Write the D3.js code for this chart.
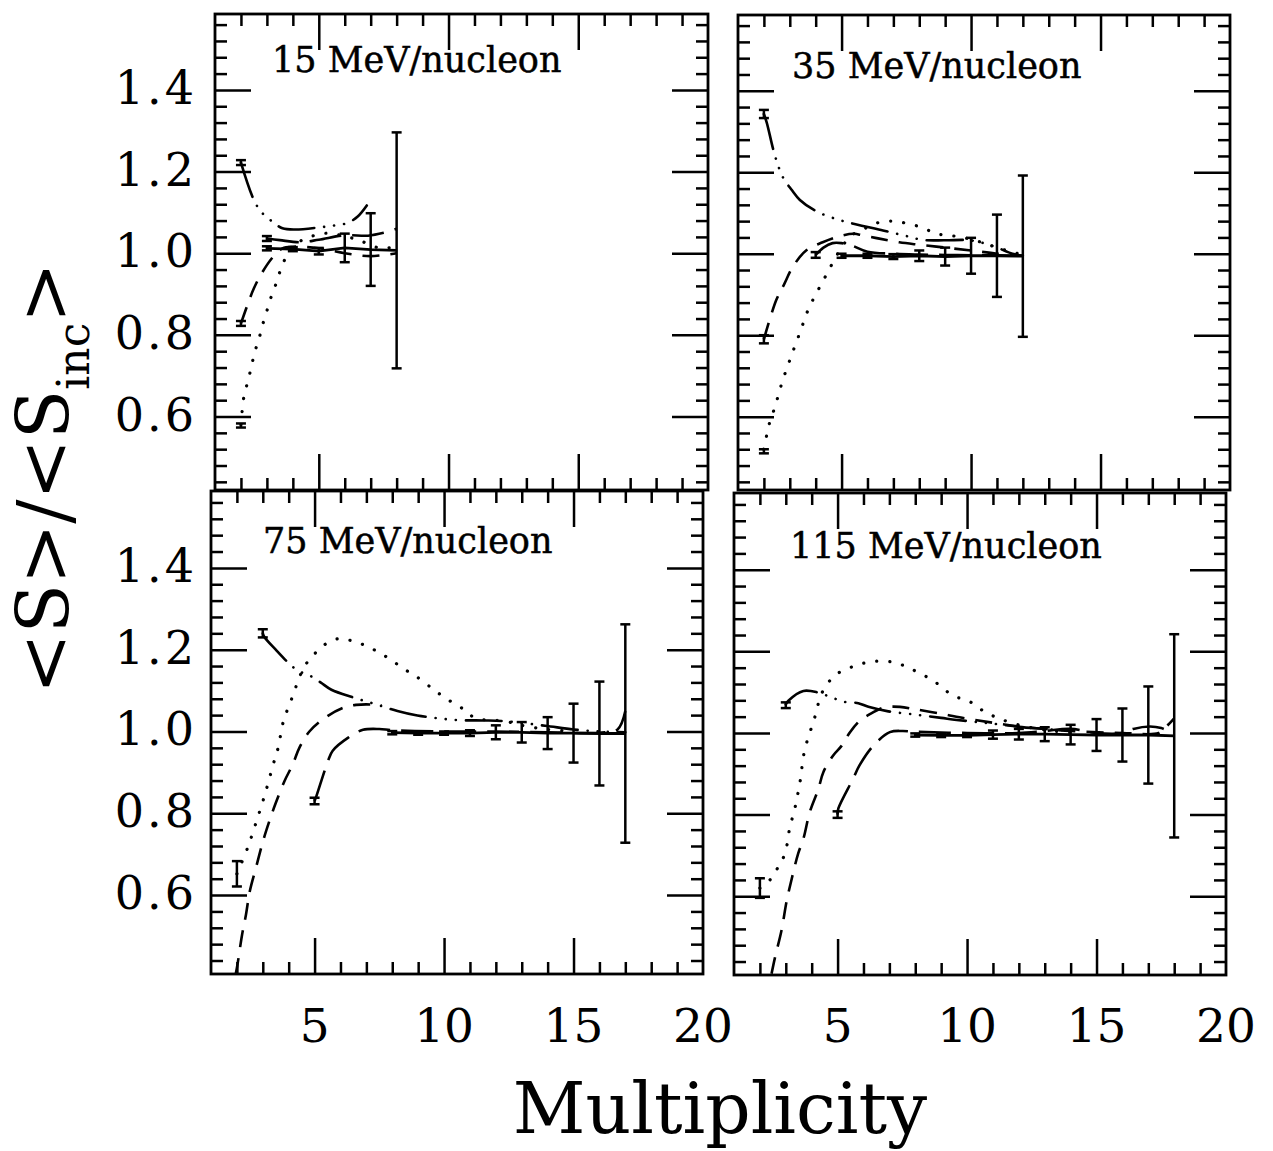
<!DOCTYPE html>
<html><head><meta charset="utf-8">
<script src="https://cdn.jsdelivr.net/npm/d3@7"></script>
<style>
html,body{margin:0;padding:0;background:#fff;}
svg{display:block;}
</style></head><body>
<svg id="chart" width="1273" height="1151"></svg>
<script>
// ---------------- DATA ----------------
const panelTitles = ["15 MeV/nucleon", "35 MeV/nucleon", "75 MeV/nucleon", "115 MeV/nucleon"];
const xDomain = [1, 20];
const xMajorTicks = [5, 10, 15];
const xMinorTicks = [2, 3, 4, 6, 7, 8, 9, 11, 12, 13, 14, 16, 17, 18, 19];
const xTickLabelValues = [5, 10, 15, 20];
const xTickLabels = ["5", "10", "15", "20"];
const yMajorTicks = [0.6, 0.8, 1.0, 1.2, 1.4];
const yTickLabels = ["0.6", "0.8", "1.0", "1.2", "1.4"];
const yMinorTicks = [0.44, 0.48, 0.52, 0.56, 0.64, 0.68, 0.72, 0.76, 0.84, 0.88, 0.92, 0.96,
                     1.04, 1.08, 1.12, 1.16, 1.24, 1.28, 1.32, 1.36, 1.44, 1.48, 1.52, 1.56];
const yDomainTop = [0.42, 1.586];
const yDomainBottom = [0.407, 1.588];

// 15 MeV/nucleon
const e15DashDotX = [2, 2.5, 2.8, 3.2, 3.6, 4.1, 5, 5.6, 6.1, 6.5, 6.85];
const e15DashDotY = [1.222, 1.13, 1.10, 1.078, 1.061, 1.058, 1.063, 1.068, 1.074, 1.09, 1.117];
const e15LongDashX = [3, 3.5, 4.3, 5, 6, 6.9, 7.5, 8];
const e15LongDashY = [1.036, 1.032, 1.027, 1.033, 1.044, 1.043, 1.05, 1.06];
const e15DashedX = [2, 2.25, 2.5, 2.8, 3.25, 3.6, 4, 5, 6, 7, 8];
const e15DashedY = [0.828, 0.873, 0.914, 0.951, 0.992, 1.012, 1.016, 1.012, 1.0, 0.993, 1.0];
const e15DottedX = [2, 2.12, 2.28, 2.41, 2.54, 2.71, 2.86, 3.02, 3.18, 3.38, 3.57, 3.83, 4.3, 4.8, 5.3, 6.4, 7.4, 7.9];
const e15DottedY = [0.58, 0.651, 0.689, 0.725, 0.759, 0.794, 0.83, 0.863, 0.896, 0.93, 0.967, 1.0, 1.03, 1.043, 1.049, 1.035, 1.012, 1.016];
const e15DataX = [3, 4, 5, 6, 7, 8];
const e15DataY = [1.012, 1.01, 1.005, 1.013, 1.009, 1.007];
const e15DataErr = [0.005, 0.005, 0.008, 0.035, 0.089, 0.289];
const e15StartX = [2, 2, 2, 3];
const e15StartY = [1.222, 0.828, 0.578, 1.036];
const e15StartErr = [0.006, 0.006, 0.005, 0.006];

// 35 MeV/nucleon
const e35DashDotX = [2, 2.11, 2.43, 2.74, 3.07, 3.39, 4, 4.75, 5.5, 6.6, 7.4, 8.14, 9, 9.96, 10.8, 11.6, 12];
const e35DashDotY = [1.343, 1.322, 1.24, 1.187, 1.157, 1.132, 1.105, 1.086, 1.073, 1.057, 1.045, 1.034, 1.033, 1.033, 1.02, 1.0, 0.995];
const e35DashedX = [2, 2.47, 2.79, 3.11, 3.63, 4.27, 5.04, 5.49, 5.81, 6.46, 7.23, 8, 9, 10, 11, 12];
const e35DashedY = [0.79, 0.885, 0.926, 0.967, 1.008, 1.028, 1.045, 1.049, 1.045, 1.037, 1.028, 1.022, 1.015, 1.008, 1.0, 0.995];
const e35DottedX = [2, 2.11, 2.24, 2.43, 2.58, 2.74, 2.93, 3.12, 3.32, 3.51, 3.7, 3.95, 4.24, 4.5, 4.78, 5.1, 5.5, 6, 6.46, 7.03, 7.6, 8.13, 8.65, 9.16, 9.68, 10.3, 11, 12];
const e35DottedY = [0.52, 0.555, 0.59, 0.624, 0.658, 0.692, 0.726, 0.76, 0.794, 0.828, 0.861, 0.894, 0.928, 0.959, 0.992, 1.025, 1.05, 1.065, 1.077, 1.08, 1.073, 1.064, 1.049, 1.045, 1.04, 1.03, 1.015, 0.997];
const e35LongDashX = [4, 4.3, 4.65, 5.0, 5.4, 6, 7, 8, 9, 10, 11, 12];
const e35LongDashY = [0.997, 1.015, 1.026, 1.026, 1.02, 1.005, 1.0, 0.998, 0.997, 0.996, 0.996, 0.995];
const e35DataX = [5, 6, 7, 8, 9, 10, 11, 12];
const e35DataY = [0.995, 0.995, 0.993, 0.995, 0.993, 0.995, 0.995, 0.994];
const e35DataErr = [0.005, 0.005, 0.006, 0.013, 0.022, 0.044, 0.101, 0.198];
const e35StartX = [2, 2, 2, 4];
const e35StartY = [1.343, 0.79, 0.515, 0.997];
const e35StartErr = [0.01, 0.01, 0.005, 0.007];

// 75 MeV/nucleon
const e75DashDotX = [3, 3.06, 3.5, 3.97, 4.35, 4.8, 5.23, 5.65, 6.5, 7.39, 8.2, 8.97, 10.49, 11.5, 12.4, 13.9, 15, 16, 17];
const e75DashDotY = [1.24, 1.231, 1.2, 1.169, 1.149, 1.137, 1.12, 1.102, 1.083, 1.066, 1.05, 1.039, 1.028, 1.027, 1.025, 1.014, 1.005, 1.0, 0.998];
const e75DottedX = [2, 2.41, 2.76, 3.1, 3.41, 3.58, 3.8, 4.0, 4.2, 4.39, 4.65, 5.0, 5.43, 5.94, 6.48, 7.0, 7.52, 8.0, 8.45, 8.94, 9.82, 10.32, 10.81, 11.2, 12.36, 13, 14, 15];
const e75DottedY = [0.652, 0.715, 0.781, 0.85, 0.921, 0.957, 1.026, 1.061, 1.094, 1.129, 1.163, 1.19, 1.214, 1.227, 1.221, 1.209, 1.192, 1.173, 1.153, 1.134, 1.092, 1.071, 1.052, 1.033, 1.025, 1.015, 1.005, 1.0];
const e75DashedX = [1.95, 2.03, 2.2, 2.35, 2.5, 2.75, 3, 3.25, 3.5, 3.84, 4.16, 4.42, 4.8, 5.39, 6.1, 6.6, 7.2, 7.6];
const e75DashedY = [0.405, 0.433, 0.503, 0.552, 0.61, 0.67, 0.73, 0.78, 0.825, 0.879, 0.92, 0.961, 1.0, 1.033, 1.058, 1.065, 1.066, 1.064];
const e75LongDashX = [5, 5.07, 5.52, 5.7, 6.3, 6.87, 7.5, 8, 10, 12, 14, 16, 16.7, 17];
const e75LongDashY = [0.83, 0.842, 0.928, 0.953, 0.985, 1.004, 1.006, 1.003, 1.0, 1.0, 0.998, 0.997, 1.005, 1.05];
const e75DataX = [8, 9, 10, 11, 12, 13, 14, 15, 16, 17];
const e75DataY = [0.997, 0.996, 0.996, 0.996, 0.998, 0.998, 0.996, 0.996, 0.995, 0.995];
const e75DataErr = [0.004, 0.004, 0.004, 0.007, 0.017, 0.025, 0.039, 0.072, 0.127, 0.267];
const e75StartX = [2, 3, 5];
const e75StartY = [0.652, 1.24, 0.83];
const e75StartErr = [0.031, 0.01, 0.008];

// 115 MeV/nucleon
const e115DashDotX = [3, 3.1, 3.68, 4.25, 4.77, 5.29, 5.8, 6.19, 6.96, 8, 9, 9.6, 11.1, 12, 13, 14];
const e115DashDotY = [1.07, 1.079, 1.103, 1.099, 1.087, 1.076, 1.073, 1.064, 1.053, 1.045, 1.037, 1.032, 1.022, 1.015, 1.01, 1.005];
const e115DottedX = [2, 2.39, 2.71, 2.97, 3.16, 3.32, 3.44, 3.55, 3.7, 3.87, 4.04, 4.19, 4.32, 4.6, 4.96, 5.48, 6.0, 6.5, 7.09, 7.6, 8.12, 8.7, 9.47, 10.05, 10.5, 11.14, 12.1, 13, 14];
const e115DottedY = [0.62, 0.64, 0.672, 0.705, 0.77, 0.807, 0.843, 0.88, 0.949, 0.99, 1.022, 1.054, 1.087, 1.12, 1.144, 1.16, 1.171, 1.176, 1.174, 1.164, 1.148, 1.128, 1.091, 1.079, 1.059, 1.038, 1.018, 1.008, 1.0];
const e115DashedX = [2.45, 2.58, 2.84, 3.03, 3.23, 3.48, 3.68, 3.93, 4.26, 4.45, 4.83, 5.16, 5.48, 5.86, 6.3, 6.76, 7.41, 8, 9, 10, 11, 12, 13, 14, 16, 17.4, 17.7, 18];
const e115DashedY = [0.41, 0.449, 0.518, 0.587, 0.643, 0.705, 0.741, 0.807, 0.863, 0.904, 0.945, 0.969, 1.002, 1.03, 1.048, 1.062, 1.064, 1.058, 1.047, 1.035, 1.025, 1.016, 1.01, 1.005, 1.0, 1.0, 1.016, 1.036];
const e115LongDashX = [5, 5.03, 5.6, 5.84, 6.38, 7.02, 7.5, 8, 10, 12, 13, 14, 15, 16, 16.42, 17.06, 17.5, 17.96];
const e115LongDashY = [0.8, 0.815, 0.888, 0.92, 0.969, 1.002, 1.005, 1.003, 1.0, 1.0, 1.005, 1.01, 1.0, 1.0, 1.01, 1.016, 1.012, 0.998];
const e115DataX = [8, 9, 10, 11, 12, 13, 14, 15, 16, 17, 18];
const e115DataY = [0.995, 0.994, 0.994, 0.996, 0.997, 0.997, 0.996, 0.995, 0.995, 0.995, 0.993];
const e115DataErr = [0.004, 0.004, 0.004, 0.01, 0.013, 0.017, 0.024, 0.039, 0.065, 0.119, 0.249];
const e115StartX = [2, 3, 5];
const e115StartY = [0.62, 1.068, 0.8];
const e115StartErr = [0.024, 0.007, 0.008];

// ---------------- ASSEMBLY ----------------
const panels = [
  { title: panelTitles[0], yDomain: yDomainTop,
    curves: [{style: "dashdot", x: e15DashDotX, y: e15DashDotY}, {style: "longdash", x: e15LongDashX, y: e15LongDashY},
             {style: "dashed", x: e15DashedX, y: e15DashedY}, {style: "dotted", x: e15DottedX, y: e15DottedY}],
    data: {x: e15DataX, y: e15DataY, err: e15DataErr},
    starts: {x: e15StartX, y: e15StartY, err: e15StartErr}, yLabels: true, xLabels: false },
  { title: panelTitles[1], yDomain: yDomainTop,
    curves: [{style: "dashdot", x: e35DashDotX, y: e35DashDotY}, {style: "dashed", x: e35DashedX, y: e35DashedY},
             {style: "dotted", x: e35DottedX, y: e35DottedY}, {style: "longdash", x: e35LongDashX, y: e35LongDashY}],
    data: {x: e35DataX, y: e35DataY, err: e35DataErr},
    starts: {x: e35StartX, y: e35StartY, err: e35StartErr}, yLabels: false, xLabels: false },
  { title: panelTitles[2], yDomain: yDomainBottom,
    curves: [{style: "dashdot", x: e75DashDotX, y: e75DashDotY}, {style: "dotted", x: e75DottedX, y: e75DottedY},
             {style: "dashed", x: e75DashedX, y: e75DashedY}, {style: "longdash", x: e75LongDashX, y: e75LongDashY}],
    data: {x: e75DataX, y: e75DataY, err: e75DataErr},
    starts: {x: e75StartX, y: e75StartY, err: e75StartErr}, yLabels: true, xLabels: true },
  { title: panelTitles[3], yDomain: yDomainBottom,
    curves: [{style: "dashdot", x: e115DashDotX, y: e115DashDotY}, {style: "dotted", x: e115DottedX, y: e115DottedY},
             {style: "dashed", x: e115DashedX, y: e115DashedY}, {style: "longdash", x: e115LongDashX, y: e115LongDashY}],
    data: {x: e115DataX, y: e115DataY, err: e115DataErr},
    starts: {x: e115StartX, y: e115StartY, err: e115StartErr}, yLabels: false, xLabels: true }
];

// layout (pixel geometry of each frame, following the scanned figure)
const layout = [
  {x0: 215, x1: 708, y0: 14, y1: 490, lx: 57, ly: 58},
  {x0: 738, x1: 1230, y0: 15, y1: 490, lx: 54, ly: 63},
  {x0: 211, x1: 703, y0: 491, y1: 974, lx: 52, ly: 62},
  {x0: 734, x1: 1226, y0: 493, y1: 975, lx: 56, ly: 65}
];
const dashes = {dashdot: "36,10,0.1,10,0.1,10,0.1,10", dashed: "17,11", dotted: "0.1,13", longdash: "32,11"};
const FONT = "'DejaVu Serif', serif";

const svg = d3.select("#chart");
svg.append("rect").attr("width", 1273).attr("height", 1151).attr("fill", "#fff");

panels.forEach((p, i) => {
  const L = layout[i];
  const x = d3.scaleLinear().domain(xDomain).range([L.x0, L.x1]);
  const y = d3.scaleLinear().domain(p.yDomain).range([L.y1, L.y0]);
  const g = svg.append("g");
  const clipId = "clip" + i;
  svg.append("clipPath").attr("id", clipId).append("rect")
    .attr("x", L.x0).attr("y", L.y0).attr("width", L.x1 - L.x0).attr("height", L.y1 - L.y0);
  const plot = g.append("g").attr("clip-path", `url(#${clipId})`);
  const line = d3.line().x(d => x(d[0])).y(d => y(d[1])).curve(d3.curveCatmullRom.alpha(0.5));

  p.curves.forEach(c => {
    const pts = c.x.map((xv, k) => [xv, c.y[k]]);
    plot.append("path").datum(pts).attr("d", line)
      .attr("fill", "none").attr("stroke", "#000")
      .attr("stroke-width", c.style === "dotted" ? 3.2 : 2.6)
      .attr("stroke-dasharray", dashes[c.style])
      .attr("stroke-linecap", (c.style === "dotted" || c.style === "dashdot") ? "round" : "butt");
  });

  const dpts = p.data.x.map((xv, k) => [xv, p.data.y[k]]);
  plot.append("path").datum(dpts)
    .attr("d", d3.line().x(d => x(d[0])).y(d => y(d[1])))
    .attr("fill", "none").attr("stroke", "#000").attr("stroke-width", 2.8);

  function errorBars(src) {
    src.x.forEach((xv, k) => {
      const cx = x(xv), yt = y(src.y[k] + src.err[k]), yb = y(src.y[k] - src.err[k]);
      const eb = plot.append("g").attr("stroke", "#000").attr("stroke-width", 2.5);
      eb.append("line").attr("x1", cx).attr("x2", cx).attr("y1", yt).attr("y2", yb);
      eb.append("line").attr("x1", cx - 5).attr("x2", cx + 5).attr("y1", yt).attr("y2", yt);
      eb.append("line").attr("x1", cx - 5).attr("x2", cx + 5).attr("y1", yb).attr("y2", yb);
    });
  }
  errorBars(p.data);
  errorBars(p.starts);

  // frame
  g.append("rect").attr("x", L.x0).attr("y", L.y0).attr("width", L.x1 - L.x0).attr("height", L.y1 - L.y0)
    .attr("fill", "none").attr("stroke", "#000").attr("stroke-width", 2.8);

  // ticks (inward on all four sides)
  const MAJ = 36, MIN = 12;
  function axis(gen, tr, vals, size) {
    const a = g.append("g").attr("transform", tr)
      .call(gen.tickValues(vals).tickSize(-size).tickFormat(""));
    a.select(".domain").remove();
    a.selectAll("line").attr("stroke", "#000").attr("stroke-width", 2.5);
  }
  axis(d3.axisBottom(x), `translate(0,${L.y1})`, xMajorTicks, MAJ);
  axis(d3.axisBottom(x), `translate(0,${L.y1})`, xMinorTicks, MIN);
  axis(d3.axisTop(x), `translate(0,${L.y0})`, xMajorTicks, MAJ);
  axis(d3.axisTop(x), `translate(0,${L.y0})`, xMinorTicks, MIN);
  axis(d3.axisLeft(y), `translate(${L.x0},0)`, yMajorTicks, MAJ);
  axis(d3.axisLeft(y), `translate(${L.x0},0)`, yMinorTicks, MIN);
  axis(d3.axisRight(y), `translate(${L.x1},0)`, yMajorTicks, MAJ);
  axis(d3.axisRight(y), `translate(${L.x1},0)`, yMinorTicks, MIN);

  // panel title
  g.append("text").attr("x", L.x0 + L.lx).attr("y", L.y0 + L.ly)
    .attr("font-family", FONT).attr("font-size", 35)
    .attr("stroke", "#000").attr("stroke-width", 0.5)
    .text(p.title);

  if (p.yLabels) {
    yMajorTicks.forEach((v, k) => {
      g.append("text").attr("x", 197).attr("y", y(v) + 14)
        .attr("text-anchor", "end").attr("font-family", FONT).attr("font-size", 46)
        .attr("letter-spacing", 3).text(yTickLabels[k]);
    });
  }
  if (p.xLabels) {
    xTickLabelValues.forEach((v, k) => {
      g.append("text").attr("x", x(v)).attr("y", 1042)
        .attr("text-anchor", "middle").attr("font-family", FONT).attr("font-size", 47)
        .text(xTickLabels[k]);
    });
  }
});

// axis titles
svg.append("text").attr("x", 720).attr("y", 1133).attr("text-anchor", "middle")
  .attr("font-family", FONT).attr("font-size", 71).text("Multiplicity");

const yt = svg.append("text").attr("transform", "translate(69,478) rotate(-90)")
  .attr("text-anchor", "middle").attr("font-family", FONT).attr("font-size", 72);
yt.append("tspan").text("<S>/<S");
yt.append("tspan").attr("font-size", 44).attr("dy", 20).text("inc");
yt.append("tspan").attr("dy", -20).text(">");
</script>
</body></html>
